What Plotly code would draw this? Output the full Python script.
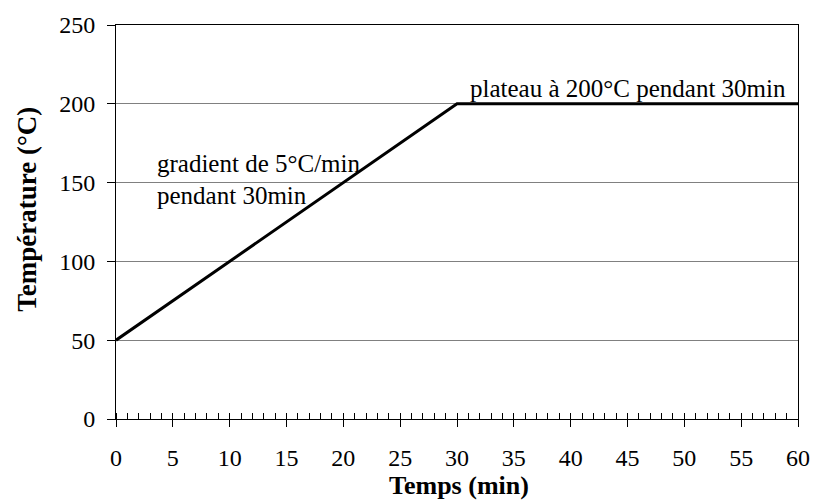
import plotly.graph_objects as go

# Data
time_min = [0, 30, 60]
temperature_c = [50, 200, 200]
x_ticks = list(range(0, 61, 5))
y_ticks = [0, 50, 100, 150, 200, 250]

FONT = "Liberation Serif"

fig = go.Figure()
fig.add_trace(go.Scatter(x=time_min, y=temperature_c, mode="lines",
                         line=dict(color="black", width=3), showlegend=False,
                         xaxis="x", yaxis="y"))
# invisible trace to activate overlay axis (major ticks pointing inward)
fig.add_trace(go.Scatter(x=[0], y=[0], mode="markers", marker=dict(opacity=0),
                         showlegend=False, hoverinfo="skip", xaxis="x2", yaxis="y"))

fig.update_layout(
    width=814, height=500,
    margin=dict(l=116, r=16, t=25, b=81),
    plot_bgcolor="white", paper_bgcolor="white",
    font=dict(family=FONT, size=24, color="black"),
    xaxis=dict(range=[0, 60], tickvals=x_ticks, ticks="outside", ticklen=7,
               tickcolor="black", tickwidth=1, showline=True, linecolor="black",
               linewidth=1, mirror=True, showgrid=False, zeroline=False,
               minor=dict(dtick=1, ticks="inside", ticklen=6, tickcolor="black"),
               ticklabelstandoff=10, automargin=False),
    xaxis2=dict(range=[0, 60], overlaying="x", side="bottom", tickvals=x_ticks,
                ticks="inside", ticklen=6, tickcolor="black", showticklabels=False,
                showgrid=False, zeroline=False, showline=False, automargin=False),
    yaxis=dict(range=[0, 250], tickvals=y_ticks, ticks="outside", ticklen=8,
               tickcolor="black", showline=True, linecolor="black", linewidth=1,
               mirror=True, showgrid=True, gridcolor="#808080", gridwidth=1,
               zeroline=False, ticklabelstandoff=7, automargin=False),
    annotations=[
        dict(x=0.5035, y=-0.170, xref="paper", yref="paper", text="<b>Temps (min)</b>",
             showarrow=False, xanchor="center", yanchor="middle", borderpad=0,
             font=dict(size=26)),
        dict(x=-0.131, y=0.533, xref="paper", yref="paper", text="<b>Température (°C)</b>",
             showarrow=False, xanchor="center", yanchor="middle", textangle=-90,
             font=dict(size=27)),
        dict(x=3.4, y=162, xref="x", yref="y", text="gradient de 5°C/min",
             showarrow=False, xanchor="left", yanchor="middle", align="left",
             font=dict(size=25)),
        dict(x=3.4, y=142, xref="x", yref="y", text="pendant 30min",
             showarrow=False, xanchor="left", yanchor="middle", align="left",
             font=dict(size=25)),
        dict(x=31.0, y=210, xref="x", yref="y", text="plateau à 200°C pendant 30min",
             showarrow=False, xanchor="left", yanchor="middle", align="left",
             font=dict(size=25)),
    ],
)

fig.write_html(
    "out.html",
    config={"displayModeBar": False},
    post_script="document.body.style.margin='0';"
                "document.documentElement.style.overflow='hidden';",
)
